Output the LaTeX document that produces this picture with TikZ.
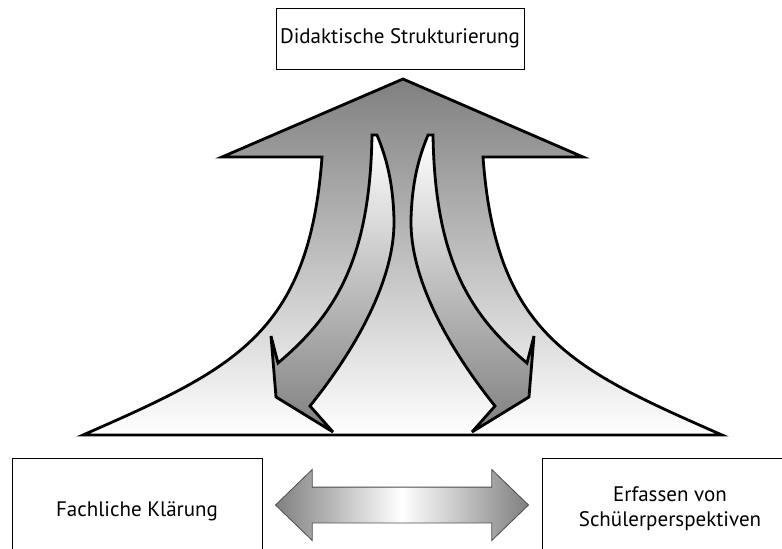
\documentclass[tikz,border=0pt]{standalone}
\usepackage{fontspec}
\setmainfont{PT Sans}
\usepackage{tikz}
\usetikzlibrary{shapes.arrows,calc}
\tikzset{
    textbox/.style={
        draw,
        rectangle,
        fill=white,
        line width=0.9pt,
        inner sep=2pt,
        align=center,
        font=\fontsize{21}{25}\selectfont
    },
    outline/.style={
        draw=black,
        line width=2.8pt,
        line join=miter,
        miter limit=6
    }
}

\begin{document}
\begin{tikzpicture}[x=1pt, y=-1pt]
  % Frame of the picture
  \useasboundingbox (0,0) rectangle (782,549);
  \clip (0,0) rectangle (782,549);

  % Boxes
  \node[textbox, minimum width=248pt, minimum height=61pt] (didaktik) at (400,38.5) {Didaktische Strukturierung};
  \node[textbox, minimum width=250pt, minimum height=106pt] (fachlich) at (137,511) {Fachliche Klärung};
  \node[textbox, minimum width=256pt, minimum height=102pt] (schueler) at (670,509) {Erfassen von\\Schülerperspektiven};

  % Large arrow pointing up
  \path[outline, top color=black!50, bottom color=white]
    (322,157) .. controls (309,335) and (233,369) .. (83,435)
    -- (722,435) .. controls (572,369) and (496,335) .. (483,157)
    -- (583,157) -- (403,79) -- (222,157) -- cycle;

  % Curved arrows inside
  \path[outline, top color=white, bottom color=black!50]
    (372,135) .. controls (370,260) and (335,315) .. (278,363)
    -- (271,336) -- (276,397) -- (333,432) -- (310,406)
    .. controls (355,350) and (395,280) .. (394,220)
    .. controls (393,175) and (383,150) .. (377,135) -- cycle;
  \path[outline, top color=white, bottom color=black!50]
    (433,135) .. controls (435,260) and (470,315) .. (527,363)
    -- (534,336) -- (529,397) -- (472,432) -- (495,406)
    .. controls (450,350) and (410,280) .. (411,220)
    .. controls (412,175) and (422,150) .. (428,135) -- cycle;

  % Double arrow between the lower boxes
  \node[double arrow, draw=black!70, line width=0.8pt,
        left color=black!50, right color=black!50, middle color=white,
        inner xsep=0pt, inner ysep=17.5pt, minimum height=253pt,
        double arrow head extend=17.5pt, double arrow tip angle=88]
    (swap) at ($(fachlich.east)!0.5!(schueler.west) + (0,-5)$) {};
\end{tikzpicture}
\end{document}
